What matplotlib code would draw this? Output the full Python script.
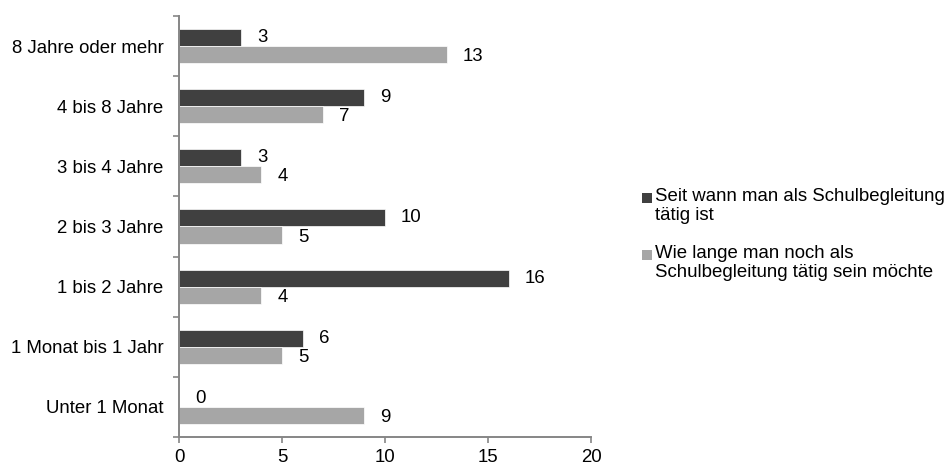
import matplotlib.pyplot as plt
import numpy as np
from matplotlib.patches import Rectangle

plt.rcParams['font.family'] = ['Liberation Sans', 'DejaVu Sans']

categories = ['Unter 1 Monat', '1 Monat bis 1 Jahr', '1 bis 2 Jahre', '2 bis 3 Jahre',
              '3 bis 4 Jahre', '4 bis 8 Jahre', '8 Jahre oder mehr']
seit_wann = [0, 6, 16, 10, 3, 9, 3]
wie_lange = [9, 5, 4, 5, 4, 7, 13]
series_labels = ['Seit wann man als Schulbegleitung\ntätig ist',
                 'Wie lange man noch als\nSchulbegleitung tätig sein möchte']

dark = '#404040'
light = '#a6a6a6'
axis_grey = '#868686'
fs = 13.4

W, H = 946, 466
fig = plt.figure(figsize=(W / 100, H / 100), dpi=100)
ax = fig.add_axes([179 / W, 1 - 437 / H, 412 / W, 421 / H])

y = np.arange(len(categories))
h = 0.285
ax.barh(y + h / 2, seit_wann, height=h, color=dark, edgecolor='white', linewidth=0.5)
ax.barh(y - h / 2, wie_lange, height=h, color=light, edgecolor='white', linewidth=0.5)

# value labels just right of each bar end
for yi, v in zip(y, seit_wann):
    ax.annotate(str(v), (v, yi + h / 2), xytext=(16, 0), textcoords='offset pixels',
                ha='left', va='center', fontsize=fs)
for yi, v in zip(y, wie_lange):
    ax.annotate(str(v), (v, yi - h / 2), xytext=(16, -2), textcoords='offset pixels',
                ha='left', va='center', fontsize=fs)

ax.set_xlim(0, 20)
ax.set_ylim(-0.5, len(categories) - 0.5)
ax.set_xticks([0, 5, 10, 15, 20])
ax.set_yticks(np.arange(-0.5, len(categories), 1.0))
ax.set_yticklabels([])
ax.set_yticks(y, minor=True)
ax.set_yticklabels(categories, minor=True)
ax.tick_params(axis='y', which='minor', length=0, pad=11, labelsize=fs)
ax.tick_params(axis='y', which='major', length=4, color=axis_grey, width=1.2)
ax.tick_params(axis='x', length=4, color=axis_grey, width=1.2, labelsize=fs, pad=5)

for side in ['top', 'right']:
    ax.spines[side].set_visible(False)
for side in ['left', 'bottom']:
    ax.spines[side].set_color(axis_grey)
    ax.spines[side].set_linewidth(1.4)

# legend: square marker aligned with the first line of each entry
legend_rows = [(198, dark, series_labels[0]), (255, light, series_labels[1])]
for ypx, col, text in legend_rows:
    fig.patches.append(Rectangle((642 / W, 1 - (ypx + 5) / H), 10 / W, 10 / H,
                                 transform=fig.transFigure, facecolor=col,
                                 edgecolor='none'))
    fig.text(655 / W, 1 - (ypx - 10) / H, text, fontsize=fs, ha='left', va='top',
             linespacing=1.12)

fig.savefig('out.png', dpi=100)
